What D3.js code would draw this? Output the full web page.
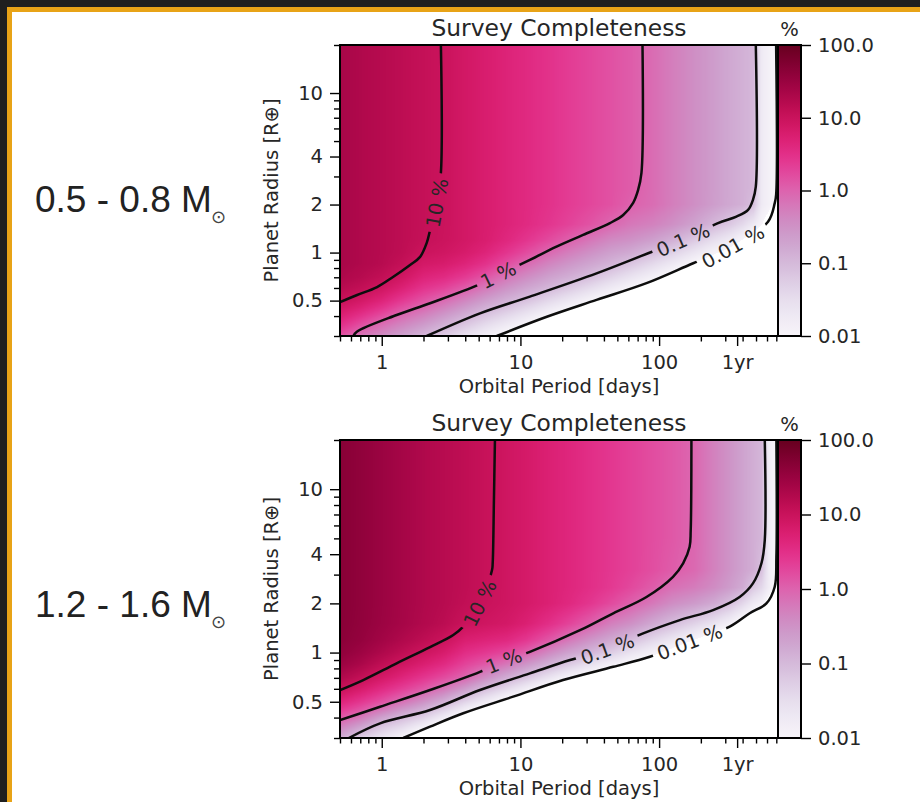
<!DOCTYPE html>
<html>
<head>
<meta charset="utf-8">
<script src="https://cdn.jsdelivr.net/npm/d3@7"></script>
<style>
  body { margin: 0; background: #ffffff; }
  svg { display: block; }
</style>
</head>
<body>
<svg id="fig" width="920" height="802"></svg>
<script>
// ---- grid nodes of the completeness map ----
const periodNodes = [0.5, 0.7, 1, 1.4, 2, 2.8, 4, 5.6, 8, 11, 16, 22, 32, 45, 63, 90, 125, 180, 250, 320, 400, 480, 550, 620, 680, 720];
const radiusNodes = [0.3, 0.35, 0.4, 0.45, 0.5, 0.6, 0.7, 0.85, 1, 1.2, 1.5, 2, 2.5, 3.2, 5, 10, 20];

// log10 of survey completeness [%], one column per period node (rows follow radiusNodes)
const logCompletenessLow = [
  [0.18, 0.49, 0.72, 0.89, 1.03, 1.20, 1.30, 1.35, 1.35, 1.35, 1.35, 1.35, 1.35, 1.35, 1.35, 1.35, 1.35],
  [-0.17, 0.18, 0.47, 0.70, 0.87, 1.09, 1.21, 1.28, 1.28, 1.28, 1.28, 1.28, 1.28, 1.28, 1.28, 1.28, 1.28],
  [-0.44, -0.12, 0.19, 0.45, 0.66, 0.93, 1.09, 1.20, 1.21, 1.21, 1.21, 1.21, 1.21, 1.21, 1.21, 1.21, 1.21],
  [-0.69, -0.37, -0.09, 0.17, 0.39, 0.71, 0.91, 1.07, 1.13, 1.14, 1.14, 1.14, 1.14, 1.14, 1.14, 1.14, 1.14],
  [-0.96, -0.62, -0.33, -0.07, 0.14, 0.45, 0.66, 0.86, 0.98, 1.05, 1.06, 1.06, 1.06, 1.06, 1.06, 1.06, 1.06],
  [-1.23, -0.89, -0.59, -0.32, -0.08, 0.30, 0.56, 0.80, 0.92, 0.98, 0.99, 0.99, 0.99, 0.99, 0.99, 0.99, 0.99],
  [-1.57, -1.19, -0.88, -0.61, -0.36, 0.06, 0.37, 0.66, 0.81, 0.88, 0.88, 0.88, 0.88, 0.88, 0.88, 0.88, 0.88],
  [-1.85, -1.48, -1.16, -0.88, -0.64, -0.22, 0.13, 0.47, 0.66, 0.77, 0.78, 0.78, 0.78, 0.78, 0.78, 0.78, 0.78],
  [-2.14, -1.76, -1.43, -1.13, -0.89, -0.51, -0.20, 0.19, 0.43, 0.61, 0.67, 0.67, 0.67, 0.67, 0.67, 0.67, 0.67],
  [-2.42, -2.02, -1.68, -1.38, -1.10, -0.73, -0.43, -0.06, 0.22, 0.44, 0.57, 0.58, 0.58, 0.58, 0.58, 0.58, 0.58],
  [-2.77, -2.36, -2.00, -1.69, -1.41, -0.95, -0.68, -0.34, -0.05, 0.23, 0.43, 0.47, 0.47, 0.47, 0.47, 0.47, 0.47],
  [-3, -2.60, -2.25, -1.94, -1.66, -1.18, -0.85, -0.53, -0.26, 0.04, 0.30, 0.37, 0.37, 0.37, 0.37, 0.37, 0.37],
  [-3, -2.87, -2.53, -2.22, -1.95, -1.47, -1.07, -0.74, -0.48, -0.19, 0.14, 0.26, 0.26, 0.26, 0.26, 0.26, 0.26],
  [-3, -3, -2.76, -2.46, -2.20, -1.74, -1.35, -0.92, -0.67, -0.39, -0.04, 0.16, 0.16, 0.16, 0.16, 0.16, 0.16],
  [-3, -3, -2.97, -2.69, -2.43, -1.99, -1.61, -1.15, -0.80, -0.49, -0.21, 0.01, 0.06, 0.06, 0.06, 0.06, 0.06],
  [-3, -3, -3, -2.94, -2.69, -2.26, -1.89, -1.43, -1.04, -0.65, -0.31, -0.10, -0.09, -0.09, -0.09, -0.09, -0.09],
  [-3, -3, -3, -3, -3, -2.57, -2.19, -1.71, -1.31, -0.86, -0.47, -0.27, -0.27, -0.27, -0.27, -0.27, -0.27],
  [-3, -3, -3, -3, -3, -2.95, -2.57, -2.05, -1.64, -1.19, -0.70, -0.46, -0.46, -0.46, -0.46, -0.46, -0.46],
  [-3, -3, -3, -3, -3, -3, -2.77, -2.32, -1.94, -1.51, -0.98, -0.64, -0.63, -0.63, -0.63, -0.63, -0.63],
  [-3, -3, -3, -3, -3, -3, -3, -2.54, -2.15, -1.72, -1.18, -0.77, -0.77, -0.77, -0.77, -0.77, -0.77],
  [-3, -3, -3, -3, -3, -3, -3, -2.90, -2.48, -2.01, -1.43, -0.88, -0.88, -0.88, -0.88, -0.88, -0.88],
  [-3, -3, -3, -3, -3, -3, -3, -3, -2.77, -2.30, -1.72, -1.08, -0.98, -0.98, -0.98, -0.98, -0.98],
  [-3, -3, -3, -3, -3, -3, -3, -3, -3, -2.50, -1.99, -1.75, -1.75, -1.75, -1.75, -1.75, -1.75],
  [-3, -3, -3, -3, -3, -3, -3, -3, -3, -2.65, -2.20, -1.90, -1.90, -1.90, -1.90, -1.90, -1.90],
  [-3, -3, -3, -3, -3, -3, -3, -3, -3, -3, -2.60, -2.02, -1.98, -1.98, -1.98, -1.98, -1.98],
  [-3, -3, -3, -3, -3, -3, -3, -3, -3, -3, -3, -3, -3, -3, -3, -3, -3]
];

const logCompletenessHigh = [
  [-0.81, -0.32, 0.10, 0.41, 0.66, 1.03, 1.27, 1.48, 1.59, 1.64, 1.66, 1.67, 1.67, 1.67, 1.67, 1.67, 1.67],
  [-1.26, -0.71, -0.22, 0.16, 0.42, 0.81, 1.08, 1.33, 1.46, 1.55, 1.58, 1.59, 1.59, 1.59, 1.59, 1.59, 1.59],
  [-1.62, -1.18, -0.68, -0.18, 0.16, 0.56, 0.85, 1.12, 1.29, 1.41, 1.47, 1.48, 1.48, 1.48, 1.48, 1.48, 1.48],
  [-1.97, -1.45, -1.01, -0.55, -0.13, 0.34, 0.64, 0.94, 1.13, 1.28, 1.37, 1.38, 1.38, 1.38, 1.38, 1.38, 1.38],
  [-2.48, -1.86, -1.32, -0.87, -0.49, 0.10, 0.42, 0.75, 0.96, 1.14, 1.26, 1.28, 1.28, 1.28, 1.28, 1.28, 1.28],
  [-3, -2.35, -1.78, -1.29, -0.86, -0.20, 0.21, 0.57, 0.80, 1.00, 1.16, 1.20, 1.20, 1.20, 1.20, 1.20, 1.20],
  [-3, -2.85, -2.29, -1.80, -1.35, -0.62, -0.04, 0.29, 0.53, 0.76, 1.00, 1.10, 1.12, 1.12, 1.12, 1.12, 1.12],
  [-3, -3, -2.65, -2.18, -1.76, -1.04, -0.45, 0.09, 0.40, 0.68, 0.93, 1.01, 1.03, 1.03, 1.03, 1.03, 1.03],
  [-3, -3, -3, -2.59, -2.17, -1.44, -0.85, -0.20, 0.25, 0.60, 0.86, 0.93, 0.93, 0.93, 0.93, 0.93, 0.93],
  [-3, -3, -3, -2.94, -2.52, -1.80, -1.18, -0.52, 0.02, 0.42, 0.73, 0.84, 0.84, 0.84, 0.84, 0.84, 0.84],
  [-3, -3, -3, -3, -2.96, -2.23, -1.61, -0.88, -0.38, 0.13, 0.51, 0.72, 0.72, 0.72, 0.72, 0.72, 0.72],
  [-3, -3, -3, -3, -3, -2.56, -1.96, -1.19, -0.68, -0.17, 0.30, 0.60, 0.63, 0.63, 0.63, 0.63, 0.63],
  [-3, -3, -3, -3, -3, -2.86, -2.27, -1.54, -0.94, -0.51, 0.03, 0.42, 0.51, 0.51, 0.51, 0.51, 0.51],
  [-3, -3, -3, -3, -3, -3, -2.53, -1.84, -1.25, -0.76, -0.28, 0.23, 0.39, 0.41, 0.41, 0.41, 0.41],
  [-3, -3, -3, -3, -3, -3, -2.69, -2.10, -1.60, -1.04, -0.48, 0.02, 0.24, 0.31, 0.31, 0.31, 0.31],
  [-3, -3, -3, -3, -3, -3, -2.86, -2.33, -1.88, -1.38, -0.78, -0.21, 0.06, 0.19, 0.20, 0.20, 0.20],
  [-3, -3, -3, -3, -3, -3, -3, -2.62, -2.17, -1.66, -1.05, -0.44, -0.13, 0.06, 0.10, 0.10, 0.10],
  [-3, -3, -3, -3, -3, -3, -3, -3, -2.52, -1.99, -1.34, -0.60, -0.25, -0.06, -0.04, -0.04, -0.04],
  [-3, -3, -3, -3, -3, -3, -3, -3, -2.87, -2.31, -1.62, -0.80, -0.43, -0.31, -0.31, -0.31, -0.31],
  [-3, -3, -3, -3, -3, -3, -3, -3, -3, -2.51, -1.88, -1.05, -0.61, -0.51, -0.51, -0.51, -0.51],
  [-3, -3, -3, -3, -3, -3, -3, -3, -3, -2.89, -2.24, -1.39, -0.81, -0.70, -0.70, -0.70, -0.70],
  [-3, -3, -3, -3, -3, -3, -3, -3, -3, -3, -2.44, -1.74, -1.19, -0.85, -0.85, -0.85, -0.85],
  [-3, -3, -3, -3, -3, -3, -3, -3, -3, -3, -2.65, -1.90, -1.42, -1.09, -0.96, -0.96, -0.96],
  [-3, -3, -3, -3, -3, -3, -3, -3, -3, -3, -2.94, -2.19, -1.80, -1.80, -1.80, -1.80, -1.80],
  [-3, -3, -3, -3, -3, -3, -3, -3, -3, -3, -3, -2.60, -2.02, -1.97, -1.97, -1.97, -1.97],
  [-3, -3, -3, -3, -3, -3, -3, -3, -3, -3, -3, -3, -3, -3, -3, -3, -3]
];

// ---- contour lines, [period in days, radius in Earth radii] ----
const contourLabels = ["10 %", "1 %", "0.1 %", "0.01 %"];

const lowContour10 = [[2.67, 20], [2.67, 3.16], [2.50, 2.05], [2.23, 1.38], [2.11, 1.15], [1.89, 0.94], [1.60, 0.836], [1.205, 0.703], [0.925, 0.608], [0.664, 0.542], [0.501, 0.490]];
const lowContour1 = [[75.9, 20], [74.6, 3.16], [70.6, 2.47], [65.0, 2.05], [55.1, 1.72], [44.2, 1.53], [28.3, 1.29], [18.2, 1.09], [11.7, 0.90], [6.92, 0.724], [4.97, 0.627], [2.23, 0.481], [1.28, 0.406], [0.661, 0.319], [0.624, 0.30]];
const lowContour01 = [[498, 20], [498, 2.59], [475, 2.14], [438, 1.85], [361, 1.68], [266, 1.53], [149, 1.20], [83.4, 0.99], [35.4, 0.741], [11.7, 0.530], [5.11, 0.416], [2.11, 0.30]];
const lowContour001 = [[698, 20], [698, 2.30], [682, 2.04], [610, 1.56], [341, 1.09], [176, 0.857], [81.1, 0.643], [35.4, 0.505], [15.5, 0.396], [6.75, 0.30]];
const lowLabelAt = [2, 9, 6, 4];

const highContour10 = [[6.55, 20], [6.44, 8.57], [6.31, 3.53], [6.24, 3.20], [5.11, 2.01], [3.87, 1.44], [3.28, 1.28], [2.23, 1.08], [1.28, 0.859], [0.736, 0.679], [0.501, 0.590]];
const highContour1 = [[171, 20], [169, 5.62], [166, 4.44], [149, 3.52], [126, 2.91], [81.1, 2.19], [46.7, 1.74], [26.9, 1.37], [11.7, 1.01], [7.60, 0.887], [5.11, 0.762], [2.23, 0.590], [0.973, 0.466], [0.501, 0.386]];
const highContour01 = [[578, 20], [578, 4.88], [547, 3.52], [475, 2.65], [381, 2.19], [245, 1.82], [141, 1.58], [76.7, 1.31], [42.4, 1.05], [22.8, 0.90], [11.7, 0.746], [5.11, 0.590], [2.23, 0.445], [0.973, 0.369], [0.579, 0.30]];
const highContour001 = [[701, 20], [701, 3.85], [682, 2.53], [594, 2.00], [450, 1.74], [323, 1.44], [166, 1.16], [85.7, 0.942], [46.7, 0.818], [20.3, 0.679], [8.87, 0.537], [3.87, 0.425], [2.23, 0.352], [1.43, 0.30]];
const highLabelAt = [4, 9, 8, 6];

// ---- axes ----
const xTickValues = [1, 10, 100, 365.25];
const xTickLabels = ["1", "10", "100", "1yr"];
const yTickValues = [0.5, 1, 2, 4, 10];
const yTickLabels = ["0.5", "1", "2", "4", "10"];
const cbarTickValues = [100, 10, 1, 0.1, 0.01];
const cbarTickLabels = ["100.0", "10.0", "1.0", "0.1", "0.01"];
const massRanges = ["0.5 - 0.8 M", "1.2 - 1.6 M"];

// ---- drawing ----
const W = 920, H = 802;
const LEFT = 340, RIGHT = 778, CB_R = 801;
const INK = "#262626";
const FONT = "'DejaVu Sans', sans-serif";

const svg = d3.select("#fig");
const defs = svg.append("defs");

// page frame
svg.append("rect").attr("width", W).attr("height", H).attr("fill", "#1f1f1f");
svg.append("rect").attr("x", 7).attr("y", 7).attr("width", W).attr("height", H).attr("fill", "#e8a317");
svg.append("rect").attr("x", 12).attr("y", 12).attr("width", W).attr("height", H).attr("fill", "#ffffff");

const color = d3.scaleSequentialLog(d3.interpolatePuRd).domain([0.01, 100]);
const lut = d3.range(0, 401).map(i => d3.rgb(color(Math.pow(10, -2 + i / 100))));

// colorbar gradient
const grad = defs.append("linearGradient").attr("id", "cbgrad")
  .attr("x1", 0).attr("y1", 1).attr("x2", 0).attr("y2", 0);
d3.range(0, 41).forEach(i => {
  const t = i / 40;
  grad.append("stop").attr("offset", t).attr("stop-color", color(Math.pow(10, -2 + 4 * t)));
});

const logP = periodNodes.map(Math.log10);
const logR = radiusNodes.map(Math.log10);
const clamp = (v, a, b) => Math.max(a, Math.min(b, v));

const panels = [
  { top: 45, bottom: 336, grid: logCompletenessLow,
    contours: [lowContour10, lowContour1, lowContour01, lowContour001], labelAt: lowLabelAt,
    mass: massRanges[0], massY: 211.7 },
  { top: 440, bottom: 738, grid: logCompletenessHigh,
    contours: [highContour10, highContour1, highContour01, highContour001], labelAt: highLabelAt,
    mass: massRanges[1], massY: 617.3 }
];

function styleAxis(sel, size) {
  sel.select(".domain").remove();
  sel.selectAll(".tick line").attr("stroke", "#000").attr("stroke-width", 1.4);
  sel.selectAll(".tick text").attr("fill", INK).style("font-family", FONT).style("font-size", size + "px");
}

panels.forEach((pn, k) => {
  const x = d3.scaleLog().domain([0.5, 720]).range([LEFT, RIGHT]);
  const y = d3.scaleLog().domain([0.3, 20]).range([pn.bottom, pn.top]);
  const cb = d3.scaleLog().domain([0.01, 100]).range([pn.bottom, pn.top]);
  const w = RIGHT - LEFT, h = pn.bottom - pn.top;
  const g = svg.append("g");

  // completeness map, shaded from the grid in log-log space
  const canvas = document.createElement("canvas");
  canvas.width = w; canvas.height = h;
  const ctx = canvas.getContext("2d");
  const img = ctx.createImageData(w, h);
  const G = pn.grid;
  for (let j = 0; j < h; j++) {
    const r = Math.log10(y.invert(pn.top + j + 0.5));
    const rj = clamp(d3.bisectRight(logR, r) - 1, 0, logR.length - 2);
    const tr = clamp((r - logR[rj]) / (logR[rj + 1] - logR[rj]), 0, 1);
    for (let i = 0; i < w; i++) {
      const p = Math.log10(x.invert(LEFT + i + 0.5));
      const ci = clamp(d3.bisectRight(logP, p) - 1, 0, logP.length - 2);
      const tp = clamp((p - logP[ci]) / (logP[ci + 1] - logP[ci]), 0, 1);
      const v = (1 - tp) * (1 - tr) * G[ci][rj] + tp * (1 - tr) * G[ci + 1][rj]
              + (1 - tp) * tr * G[ci][rj + 1] + tp * tr * G[ci + 1][rj + 1];
      if (v < -2) continue;
      const c = lut[clamp(Math.round((v + 2) * 100), 0, 400)];
      const o = (j * w + i) * 4;
      img.data[o] = c.r; img.data[o + 1] = c.g; img.data[o + 2] = c.b; img.data[o + 3] = 255;
    }
  }
  ctx.putImageData(img, 0, 0);
  g.append("image").attr("x", LEFT).attr("y", pn.top).attr("width", w).attr("height", h)
    .attr("preserveAspectRatio", "none").attr("href", canvas.toDataURL());

  // contour lines with gaps for their labels
  const clipId = "plotclip" + k, maskId = "labelgap" + k;
  defs.append("clipPath").attr("id", clipId).append("rect")
    .attr("x", LEFT).attr("y", pn.top).attr("width", w).attr("height", h);
  const mask = defs.append("mask").attr("id", maskId).attr("maskUnits", "userSpaceOnUse")
    .attr("x", 0).attr("y", 0).attr("width", W).attr("height", H);
  mask.append("rect").attr("width", W).attr("height", H).attr("fill", "#fff");

  const line = d3.line().x(d => x(d[0])).y(d => y(d[1])).curve(d3.curveCatmullRom.alpha(0.5));
  g.append("g").attr("clip-path", `url(#${clipId})`)
    .append("g").attr("mask", `url(#${maskId})`)
    .selectAll("path").data(pn.contours).join("path")
    .attr("d", line).attr("fill", "none").attr("stroke", "#0d0d0d").attr("stroke-width", 2.5)
    .attr("stroke-linejoin", "round");

  pn.contours.forEach((pts, m) => {
    const idx = pn.labelAt[m];
    const a = pts[idx], prev = pts[idx - 1], next = pts[idx + 1];
    let dx = x(prev[0]) - x(next[0]), dy = y(prev[1]) - y(next[1]);
    if (dx < 0) { dx = -dx; dy = -dy; }
    const ang = Math.atan2(dy, dx) * 180 / Math.PI;
    const tf = `translate(${x(a[0])},${y(a[1])}) rotate(${ang})`;
    const t = g.append("text").attr("transform", tf).attr("text-anchor", "middle").attr("dy", "0.36em")
      .attr("fill", INK).style("font-family", FONT).style("font-size", "19.5px").text(contourLabels[m]);
    const len = t.node().getComputedTextLength();
    mask.append("rect").attr("transform", tf).attr("x", -len / 2 - 5).attr("y", -10)
      .attr("width", len + 10).attr("height", 20).attr("fill", "#000");
  });

  // frames
  g.append("rect").attr("x", LEFT).attr("y", pn.top).attr("width", w).attr("height", h)
    .attr("fill", "none").attr("stroke", "#000").attr("stroke-width", 2);
  g.append("rect").attr("x", RIGHT).attr("y", pn.top).attr("width", CB_R - RIGHT).attr("height", h)
    .attr("fill", "url(#cbgrad)").attr("stroke", "#000").attr("stroke-width", 2);

  // x axis
  const xMinor = x.ticks().filter(v => !xTickValues.some(t => Math.abs(t - v) < 1e-9));
  g.append("g").attr("transform", `translate(0,${pn.bottom})`)
    .call(d3.axisBottom(x).tickValues(xMinor).tickSize(5.5).tickFormat(""))
    .call(s => styleAxis(s, 19.5));
  g.append("g").attr("transform", `translate(0,${pn.bottom})`)
    .call(d3.axisBottom(x).tickValues(xTickValues).tickSize(10).tickPadding(9)
      .tickFormat((d, i) => xTickLabels[i]))
    .call(s => styleAxis(s, 19.5));

  // y axis
  const yMinor = y.ticks().filter(v => !yTickValues.some(t => Math.abs(t - v) < 1e-9));
  g.append("g").attr("transform", `translate(${LEFT},0)`)
    .call(d3.axisLeft(y).tickValues(yMinor).tickSize(6).tickFormat(""))
    .call(s => styleAxis(s, 19.5));
  g.append("g").attr("transform", `translate(${LEFT},0)`)
    .call(d3.axisLeft(y).tickValues(yTickValues).tickSize(10).tickPadding(7)
      .tickFormat((d, i) => yTickLabels[i]))
    .call(s => styleAxis(s, 19.5));

  // colorbar axis
  g.append("g").attr("transform", `translate(${CB_R},0)`)
    .call(d3.axisRight(cb).tickValues(cbarTickValues).tickSize(10).tickPadding(7)
      .tickFormat((d, i) => cbarTickLabels[i]))
    .call(s => styleAxis(s, 19.5));

  // titles and labels
  g.append("text").attr("x", (LEFT + RIGHT) / 2).attr("y", pn.top - 9).attr("text-anchor", "middle")
    .attr("fill", INK).style("font-family", FONT).style("font-size", "23.4px").text("Survey Completeness");
  g.append("text").attr("x", (RIGHT + CB_R) / 2).attr("y", pn.top - 9).attr("text-anchor", "middle")
    .attr("fill", INK).style("font-family", FONT).style("font-size", "19.5px").text("%");
  g.append("text").attr("x", (LEFT + RIGHT) / 2).attr("y", pn.bottom + 57).attr("text-anchor", "middle")
    .attr("fill", INK).style("font-family", FONT).style("font-size", "19.5px").text("Orbital Period [days]");
  g.append("text").attr("transform", `translate(278,${(pn.top + pn.bottom) / 2}) rotate(-90)`)
    .attr("text-anchor", "middle").attr("fill", INK).style("font-family", FONT).style("font-size", "19.5px")
    .text("Planet Radius [R\u2295]");

  // stellar mass bin
  g.append("text").attr("x", 35).attr("y", pn.massY).attr("fill", "#222")
    .style("font-family", "'Liberation Sans', Arial, sans-serif").style("font-size", "37px").text(pn.mass);
  g.append("text").attr("x", 218.5).attr("y", pn.massY + 11).attr("text-anchor", "middle").attr("fill", "#444")
    .style("font-family", FONT).style("font-size", "18px").text("\u2299");
});
</script>
</body>
</html>
